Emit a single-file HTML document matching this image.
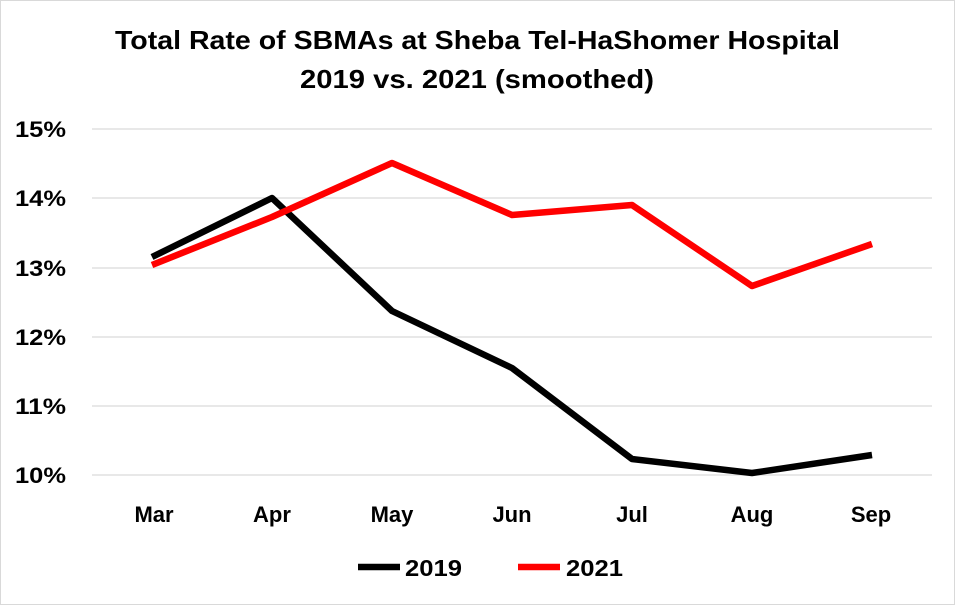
<!DOCTYPE html>
<html><head><style>
html,body{margin:0;padding:0;background:#fff;}
svg{display:block;}
</style></head><body>
<svg width="955" height="605" xmlns="http://www.w3.org/2000/svg" font-family="Liberation Sans, sans-serif" font-weight="bold">
<rect x="0.5" y="0.5" width="954" height="604" fill="#fff" stroke="#d9d9d9"/>
<text x="115" y="49" font-size="26" textLength="725" lengthAdjust="spacingAndGlyphs">Total Rate of SBMAs at Sheba Tel-HaShomer Hospital</text>
<text x="300" y="88" font-size="26" textLength="354" lengthAdjust="spacingAndGlyphs">2019 vs. 2021 (smoothed)</text>
<g stroke="#d9d9d9" stroke-width="1.3">
<line x1="92" x2="932" y1="129" y2="129"/>
<line x1="92" x2="932" y1="198" y2="198"/>
<line x1="92" x2="932" y1="268" y2="268"/>
<line x1="92" x2="932" y1="337" y2="337"/>
<line x1="92" x2="932" y1="406" y2="406"/>
<line x1="92" x2="932" y1="475" y2="475"/>
</g>
<g font-size="22">
<text x="15" y="137" textLength="51" lengthAdjust="spacingAndGlyphs">15%</text>
<text x="15" y="206" textLength="51" lengthAdjust="spacingAndGlyphs">14%</text>
<text x="15" y="276" textLength="51" lengthAdjust="spacingAndGlyphs">13%</text>
<text x="15" y="345" textLength="51" lengthAdjust="spacingAndGlyphs">12%</text>
<text x="15" y="414" textLength="51" lengthAdjust="spacingAndGlyphs">11%</text>
<text x="15" y="483" textLength="51" lengthAdjust="spacingAndGlyphs">10%</text>
</g>
<g font-size="22" text-anchor="middle">
<text x="154" y="522">Mar</text>
<text x="272" y="522">Apr</text>
<text x="392" y="522">May</text>
<text x="512" y="522">Jun</text>
<text x="632" y="522">Jul</text>
<text x="752" y="522">Aug</text>
<text x="871" y="522">Sep</text>
</g>
<polyline fill="none" stroke="#000" stroke-width="6.5" stroke-linejoin="round" points="152,257 272,198 392,311 512,368 632,459 752,473 872,455"/>
<polyline fill="none" stroke="#ff0000" stroke-width="6.5" stroke-linejoin="round" points="152,265 272,217 392,163 512,215 632,205 752,286 872,244"/>
<line x1="358" x2="400" y1="567" y2="567" stroke="#000" stroke-width="6.5"/>
<text x="405" y="576" font-size="23" textLength="57" lengthAdjust="spacingAndGlyphs">2019</text>
<line x1="518" x2="560" y1="567" y2="567" stroke="#ff0000" stroke-width="6.5"/>
<text x="566" y="576" font-size="23" textLength="57" lengthAdjust="spacingAndGlyphs">2021</text>
</svg>
</body></html>
